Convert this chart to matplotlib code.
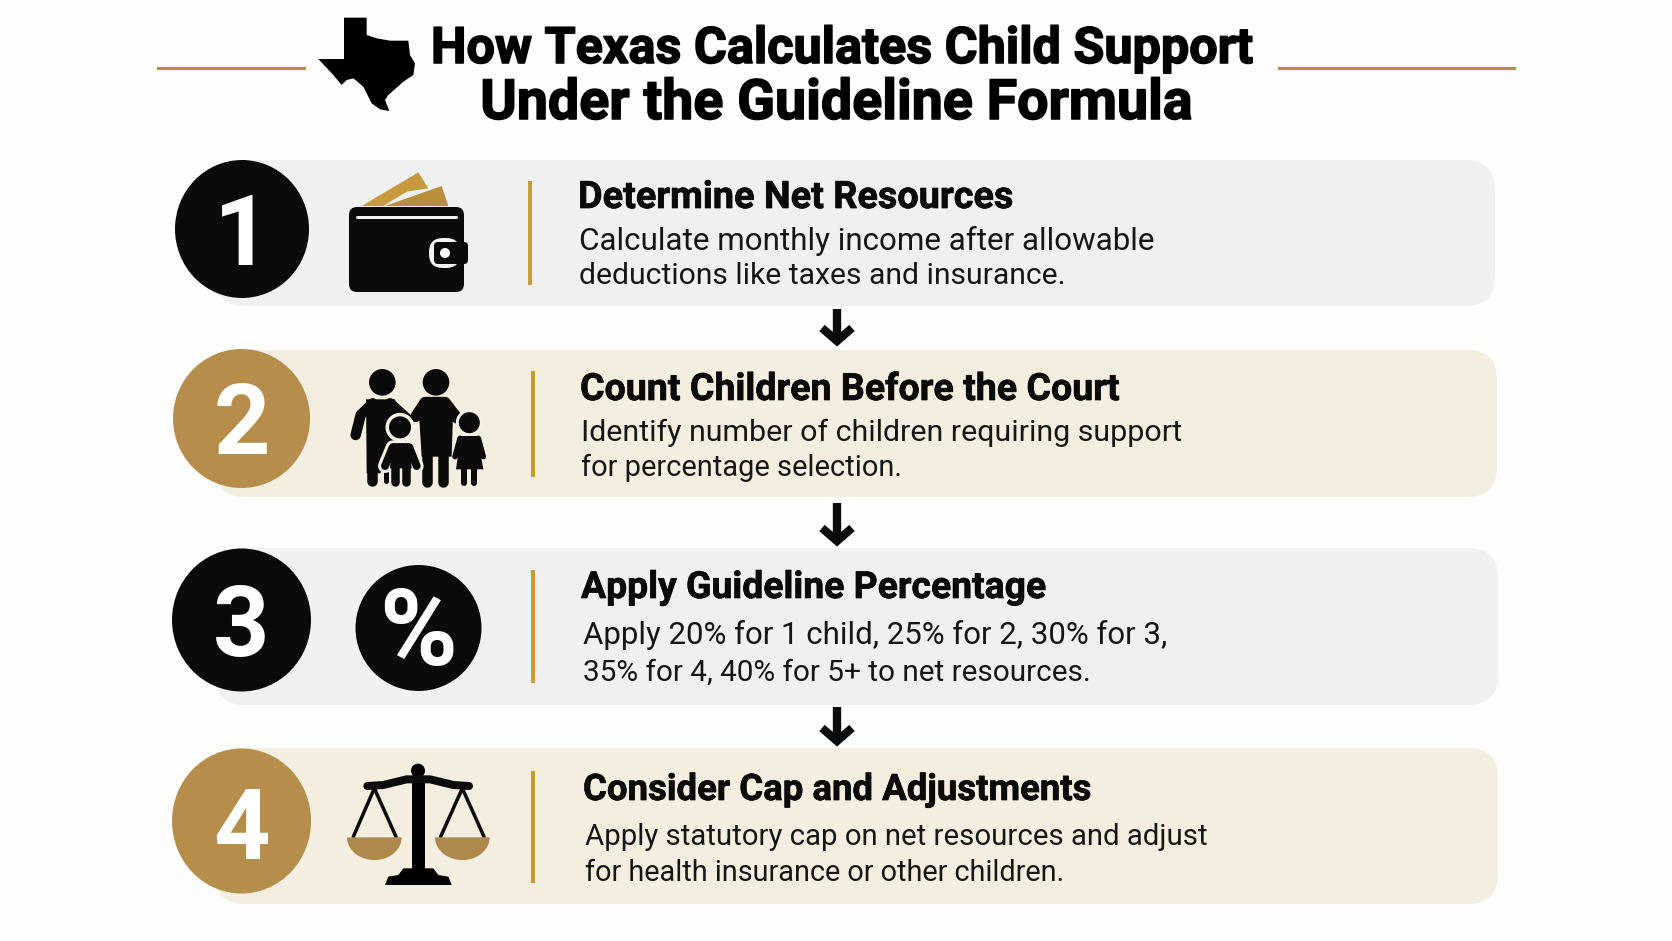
import numpy as np
import matplotlib
matplotlib.use("Agg")
import matplotlib.pyplot as plt
import matplotlib.patheffects as pe
from matplotlib.patches import Circle, Ellipse, FancyBboxPatch, Polygon, Rectangle

TITLE_LINES = ["How Texas Calculates Child Support", "Under the Guideline Formula"]
STEP_NUMBERS = ["1", "2", "3", "4"]
STEP_TITLES = [
    "Determine Net Resources",
    "Count Children Before the Court",
    "Apply Guideline Percentage",
    "Consider Cap and Adjustments",
]
STEP_LINE1 = [
    "Calculate monthly income after allowable",
    "Identify number of children requiring support",
    "Apply 20% for 1 child, 25% for 2, 30% for 3,",
    "Apply statutory cap on net resources and adjust",
]
STEP_LINE2 = [
    "deductions like taxes and insurance.",
    "for percentage selection.",
    "35% for 4, 40% for 5+ to net resources.",
    "for health insurance or other children.",
]

BLACK = "#0b0b0b"
GOLD = "#b48e4a"
RULE_GOLD = "#c59b2e"
GREY_CARD = "#eff0f2"
CREAM_CARD = "#f4eee0"

# layout, in pixels of the 1672x941 canvas
CARD_TOP = [160, 350, 548, 748]
CARD_BOT = [306, 497, 705, 904]
CARD_RIGHT = [1495, 1497, 1498, 1498]
CIRCLE_X = [242, 241.5, 241.5, 241.5]
CIRCLE_Y = [229, 418.5, 620, 821]
CIRCLE_RX = [67, 68.5, 69.5, 69.5]
CIRCLE_RY = [69, 69.5, 71.5, 72.5]
CIRCLE_FILL = [BLACK, GOLD, BLACK, GOLD]
CARD_FILL = [GREY_CARD, CREAM_CARD, GREY_CARD, CREAM_CARD]
RULE_X = [530, 533, 533, 533]
RULE_TOP = [181, 371, 570, 771]
RULE_BOT = [285, 477, 683, 883]
TITLE_X = [578, 580, 581, 583]
TITLE_BASE = [208, 400, 598, 800]
LINE1_X = [579, 581, 583, 585]
LINE1_BASE = [250, 441, 644, 845]
LINE2_BASE = [284, 476, 681, 881]
NUM_BASE = [265, 454, 656, 859]
ARROW_TOP = [307, 501, 705]
ARROW_BOT = [345, 545, 745]
# target text widths, px
HEAD_W = [822, 712]
TITLE_W = [436, 540, 466, 509]
LINE1_W = [576, 602, 585, 621]
LINE2_W = [486, 321, 509, 480]

fig = plt.figure(figsize=(16.72, 9.41), dpi=100, facecolor="#fdfdfd")
ax = fig.add_axes([0, 0, 1, 1])
ax.set_xlim(0, 1672)
ax.set_ylim(941, 0)
ax.axis("off")
renderer = fig.canvas.get_renderer()


def fit_text(x, y, txt, width, ha="left", stroke=0, **kw):
    t = ax.text(x, y, txt, ha=ha, va="baseline", zorder=5, **kw)
    w = t.get_window_extent(renderer).width
    t.set_fontsize(t.get_fontsize() * width / w)
    if stroke:
        t.set_path_effects([pe.withStroke(linewidth=stroke, foreground=kw["color"])])
    return t


def zp(points, x0, y0):
    # zoomed-crop coords (3x) -> canvas pixels
    return [(x0 + x / 3, y0 + y / 3) for x, y in points]


def rbox(x0, y0, x1, y1, r, color, z=2):
    ax.add_patch(FancyBboxPatch((x0 + r, y0 + r), x1 - x0 - 2 * r, y1 - y0 - 2 * r,
                                boxstyle=f"round,pad={r},rounding_size={r}",
                                fc=color, ec="none", zorder=z))


def limb(pts, w, color=BLACK, z=5):
    xs, ys = zip(*pts)
    ax.plot(xs, ys, color=color, lw=w * 0.72, solid_capstyle="round", solid_joinstyle="round", zorder=z)


def draw_texas():
    pts = [(582, 53), (650, 53), (650, 105), (680, 115), (720, 122), (775, 122), (780, 165),
           (795, 190), (790, 225), (760, 245), (715, 285), (705, 300), (718, 333), (690, 328),
           (665, 310), (640, 260), (610, 235), (590, 240), (575, 255), (550, 225), (505, 177), (582, 177)]
    ax.add_patch(Polygon(zp(pts, 150, 0), fc="black", ec="none", zorder=4))


def draw_wallet():
    ax.add_patch(Polygon(zp([(635, 618), (805, 517), (835, 565), (770, 575), (700, 618)], 150, 0),
                         fc="#c49a3c", ec="none", zorder=3))
    ax.add_patch(Polygon(zp([(705, 618), (875, 558), (895, 618)], 150, 0),
                         fc="#b88f3c", ec="none", zorder=3))
    rbox(349, 207, 464, 292, 8, BLACK, z=4)
    limb(zp([(620, 652), (918, 652)], 150, 0), 3, "#f4f4f4")
    rbox(429, 238, 460, 268, 14, "#f4f4f4", z=5)
    rbox(434, 242, 468, 264, 4, BLACK, z=6)
    ax.add_patch(Circle((445, 253), 5, fc="white", ec="none", zorder=7))


def draw_family():
    ox, oy = 150, 340
    # adults
    for cx in (697, 858):
        ax.add_patch(Circle(zp([(cx, 127)], ox, oy)[0], 13.3, fc=BLACK, ec="none", zorder=5))
    limb(zp([(617, 285), (632, 225), (668, 190)], ox, oy), 10.5)
    limb(zp([(720, 190), (770, 235)], ox, oy), 10.5)
    ax.add_patch(Polygon(zp([(648, 178), (735, 178), (770, 300), (690, 400), (650, 400)], ox, oy),
                         fc=BLACK, ec="none", zorder=5))
    limb(zp([(665, 380), (665, 424)], ox, oy), 10.5)
    limb(zp([(707, 400), (707, 424)], ox, oy), 5)
    ax.add_patch(Polygon(zp([(805, 190), (910, 190), (905, 350), (815, 350)], ox, oy),
                         fc=BLACK, ec="none", zorder=5))
    limb(zp([(797, 230), (825, 187), (885, 187), (922, 235)], ox, oy), 11)
    limb(zp([(832, 340), (832, 425)], ox, oy), 10.5)
    limb(zp([(880, 340), (880, 425)], ox, oy), 10.5)
    # boy, with white halo
    ax.add_patch(Circle(zp([(750, 262)], ox, oy)[0], 14.5, fc="#f6f1e6", ec="none", zorder=6))
    ax.add_patch(Circle(zp([(750, 262)], ox, oy)[0], 11, fc=BLACK, ec="none", zorder=7))
    limb(zp([(705, 378), (728, 322), (778, 322), (800, 378)], ox, oy), 14, "#f6f1e6", z=6)
    ax.add_patch(Polygon(zp([(725, 310), (780, 310), (785, 385), (720, 385)], ox, oy),
                         fc=BLACK, ec="none", zorder=7))
    limb(zp([(705, 378), (728, 322), (778, 322), (800, 378)], ox, oy), 8, BLACK, z=7)
    limb(zp([(736, 375), (736, 427)], ox, oy), 8.5, BLACK, z=7)
    limb(zp([(769, 375), (769, 427)], ox, oy), 8.5, BLACK, z=7)
    # girl
    ax.add_patch(Circle(zp([(958, 248)], ox, oy)[0], 13.5, fc="#f6f1e6", ec="none", zorder=6))
    ax.add_patch(Circle(zp([(958, 248)], ox, oy)[0], 10.5, fc=BLACK, ec="none", zorder=7))
    ax.add_patch(Polygon(zp([(932, 288), (982, 288), (1000, 388), (918, 388)], ox, oy),
                         fc=BLACK, ec="none", zorder=7))
    limb(zp([(915, 350), (930, 295)], ox, oy), 5.5, BLACK, z=7)
    limb(zp([(1000, 350), (985, 295)], ox, oy), 5.5, BLACK, z=7)
    limb(zp([(943, 385), (943, 430)], ox, oy), 6, BLACK, z=7)
    limb(zp([(972, 385), (972, 430)], ox, oy), 6, BLACK, z=7)


def draw_scale():
    ox, oy = 150, 700
    ax.add_patch(Rectangle(zp([(785, 230)], ox, oy)[0], 13, 92, fc="black", ec="none", zorder=5))
    ax.add_patch(Circle(zp([(804, 212)], ox, oy)[0], 7, fc="black", ec="none", zorder=5))
    limb(zp([(652, 258), (700, 255), (770, 238), (804, 238), (840, 238), (910, 255), (957, 258)], ox, oy), 8)
    limb(zp([(673, 265), (610, 410)], ox, oy), 3.5)
    limb(zp([(673, 265), (738, 410)], ox, oy), 3.5)
    limb(zp([(937, 265), (872, 410)], ox, oy), 3.5)
    limb(zp([(937, 265), (1002, 410)], ox, oy), 3.5)
    ang = np.linspace(0, np.pi, 40)
    for cx in (673, 937):
        c = zp([(cx, 412)], ox, oy)[0]
        ax.add_patch(Polygon(np.c_[c[0] + 27.3 * np.cos(ang), c[1] + 22.7 * np.sin(ang)],
                             fc="#ad8a4c", ec="none", zorder=5))
    ax.add_patch(Polygon(zp([(745, 525), (760, 505), (850, 505), (865, 525), (895, 530), (905, 555),
                             (705, 555), (715, 530)], ox, oy), fc="black", ec="none", zorder=5))


# header
ax.plot([158, 304], [68, 68], color=GOLD, lw=2.2, zorder=2)
ax.plot([1279, 1514], [68, 68], color=GOLD, lw=2.2, zorder=2)
draw_texas()
for txt, x, y, w in zip(TITLE_LINES, [842, 836], [63, 119], HEAD_W):
    fit_text(x, y, txt, w, ha="center", stroke=1.1, family="Roboto", weight="bold",
             fontsize=36, color="black")

# cards
for i, num in enumerate(STEP_NUMBERS):
    rbox(215, CARD_TOP[i], CARD_RIGHT[i], CARD_BOT[i], 30, CARD_FILL[i], z=1)
    ax.add_patch(Ellipse((CIRCLE_X[i], CIRCLE_Y[i]), 2 * CIRCLE_RX[i], 2 * CIRCLE_RY[i],
                         fc=CIRCLE_FILL[i], ec="none", zorder=3))
    ax.text(CIRCLE_X[i], NUM_BASE[i], num, ha="center", va="baseline", family="Roboto", weight="bold",
            fontsize=71, color="white", zorder=4)
    ax.plot([RULE_X[i]] * 2, [RULE_TOP[i], RULE_BOT[i]], color=RULE_GOLD, lw=2.8,
            solid_capstyle="butt", zorder=3)
    fit_text(TITLE_X[i], TITLE_BASE[i], STEP_TITLES[i], TITLE_W[i], stroke=0.5, family="Roboto",
             weight="bold", fontsize=26, color="#0a0a0a")
    fit_text(LINE1_X[i], LINE1_BASE[i], STEP_LINE1[i], LINE1_W[i], family="Roboto",
             fontsize=22, color="#161616")
    fit_text(LINE1_X[i], LINE2_BASE[i], STEP_LINE2[i], LINE2_W[i], family="Roboto",
             fontsize=22, color="#161616")

# arrows between cards
for top, bot in zip(ARROW_TOP, ARROW_BOT):
    ax.plot([837, 837], [top + 2, bot - 6], color=BLACK, lw=6, solid_capstyle="butt", zorder=4)
    ax.plot([822, 837, 852], [bot - 17, bot - 4, bot - 17], color=BLACK, lw=6,
            solid_capstyle="butt", solid_joinstyle="miter", zorder=4)

draw_wallet()
draw_family()
ax.add_patch(Circle((418.5, 628), 63, fc=BLACK, ec="none", zorder=4))
ax.text(418.5, 665, "%", ha="center", va="baseline", family="Roboto", weight="bold",
        fontsize=76, color="white", zorder=5)
draw_scale()

fig.savefig("out.png", dpi=100, facecolor=fig.get_facecolor())
